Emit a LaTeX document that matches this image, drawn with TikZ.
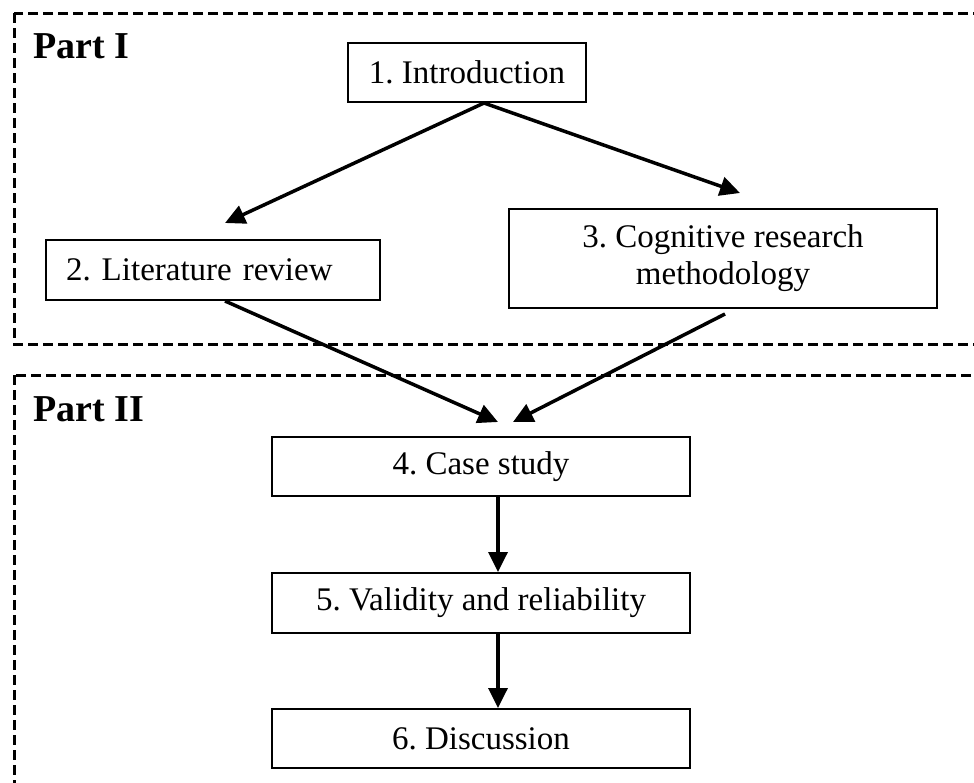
\documentclass[tikz,border=0pt]{standalone}
\usepackage{fontspec}
\setmainfont{Liberation Serif}
\usetikzlibrary{arrows.meta,calc}
\begin{document}
\frenchspacing
\begin{tikzpicture}[x=1pt,y=-1pt,
  box/.style={draw,line width=2pt,inner sep=0pt,font=\fontsize{33}{37}\selectfont},
  conn/.style={line width=3.5pt,-{Triangle[length=20pt,width=19pt]}},
  part/.style={draw,line width=3pt,dash pattern=on 10pt off 5pt},
  partlabel/.style={font=\fontsize{38}{40}\selectfont\bfseries,anchor=base west,inner sep=0pt}]
\useasboundingbox (0,0) rectangle (974,782);

% dashed frames of the two parts, running off the page edge
\begin{scope}
  \clip (0,0) rectangle (974,782);
  \draw[part] (14,13) rectangle (1000,344);
  \draw[part] (14,375) rectangle (1000,820);
\end{scope}

\node[partlabel] (p1) at (33,58) {Part I};
\node[partlabel] (p2) at (33,421) {Part II};

% chapter boxes
\node[box,anchor=north west,minimum width=238pt,minimum height=59pt] (intro) at (347,42) {1. Introduction};
\node[box,anchor=north west,minimum width=334pt,minimum height=60pt,text width=294pt,inner xsep=20pt,align=left] (lit) at (45,239) {2. Literature review};
\node[box,anchor=north west,minimum width=428pt,minimum height=99pt,align=center] (cog) at (508,208) {3. Cognitive research\\methodology};
\node[box,anchor=north,minimum width=418pt,minimum height=59pt] (case) at (481,436) {4. Case study};
\node[box,anchor=north,minimum width=418pt,minimum height=60pt] (val) at (481,572) {5. Validity and reliability};
\node[box,anchor=north,minimum width=418pt,minimum height=59pt] (disc) at (481,708) {6. Discussion};

% connector end points
\coordinate (fork) at ($(intro.south)+(17,0)$);
\coordinate (litin) at (225,223);
\coordinate (cogin) at (740,193);
\coordinate (litout) at ($(lit.south west)+(180,0)$);
\coordinate (cogout) at (725,314);
\coordinate (casein1) at (498,422);
\coordinate (casein2) at (513,422);

\draw[conn] (fork) -- (litin);
\draw[conn] (fork) -- (cogin);
\draw[conn] (litout) -- (casein1);
\draw[conn] (cogout) -- (casein2);
\draw[conn] ([xshift=17pt]case.south) -- ([xshift=17pt]val.north);
\draw[conn] ([xshift=17pt]val.south) -- ([xshift=17pt]disc.north);
\end{tikzpicture}
\end{document}
